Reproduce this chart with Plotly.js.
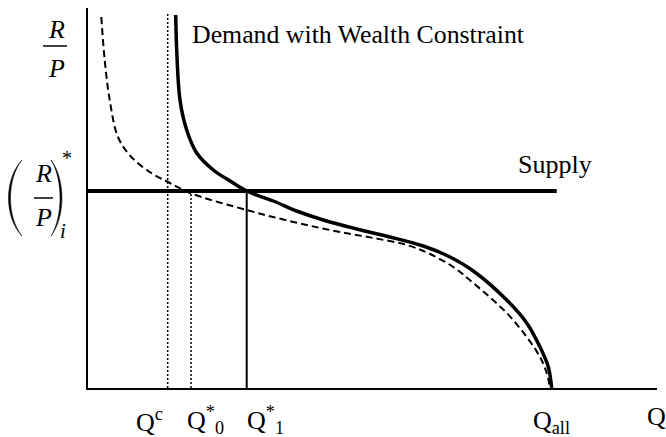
<!DOCTYPE html>
<html>
<head>
<meta charset="utf-8">
<script src="https://cdn.plot.ly/plotly-3.0.1.min.js"></script>
<style>html,body{margin:0;padding:0;background:#fff;}#chart{width:666px;height:437px;}</style>
</head>
<body>
<div id="chart"></div>
<script>
// Demand with wealth constraint (solid)
const wealthQ = [87.7, 88.7, 92, 98.7, 108.7, 125.3, 142, 158.7, 185.3, 208.7, 235.3, 268.7, 302, 335.3, 360, 385.3, 418.7, 438.7, 452, 460.3, 463.7];
const wealthP = [373, 338, 288, 258, 235, 218, 207, 197, 187, 177, 168, 159, 151, 142, 132, 117, 88, 65, 41, 21, 0];
// Demand without wealth constraint (dashed)
const demandQ = [13.3, 16.7, 21.7, 30, 43.3, 63.3, 80, 102, 158.7, 185, 218.7, 252, 285.3, 318.7, 342, 365.3, 385.3, 418.7, 438.7, 452, 458.7, 462];
const demandP = [371, 328, 288, 251, 231, 215, 206, 195, 178, 171, 163, 156, 150, 143, 134, 121, 105, 75, 51, 31, 15, 0];
// Supply (horizontal)
const supplyQ = [0, 468.7];
const pStar = 197;
// Key quantities
const qC = 79.7, q0 = 103, q1 = 158.7, qCTop = 374;
const xLabels = ['Q<sup>c</sup>', 'Q<sup>*</sup><sub>0</sub>', 'Q<sup>*</sup><sub>1</sub>', 'Q<sub>all</sub>', 'Q'];

const L = 88, T = 8, W = 569, H = 380;
const px = x => (x - L) / W;
const py = y => (T + H - y) / H;
const serif = 'Liberation Serif, Times New Roman, serif';

const traces = [
  {x: demandQ, y: demandP, mode: 'lines', line: {color: '#000', width: 2, dash: '7px,4px', shape: 'spline', smoothing: 1}, hoverinfo: 'skip'},
  {x: wealthQ, y: wealthP, mode: 'lines', line: {color: '#000', width: 3.5, shape: 'spline', smoothing: 1}, hoverinfo: 'skip'},
  {x: supplyQ, y: [pStar, pStar], mode: 'lines', line: {color: '#000', width: 4}, hoverinfo: 'skip'},
  {x: [q1, q1], y: [0, pStar], mode: 'lines', line: {color: '#000', width: 2}, hoverinfo: 'skip'},
  {x: [qC, qC], y: [0, qCTop], mode: 'lines', line: {color: '#000', width: 1.5, dash: '2px,2px'}, hoverinfo: 'skip'},
  {x: [q0, q0], y: [0, pStar], mode: 'lines', line: {color: '#000', width: 1.5, dash: '2px,2px'}, hoverinfo: 'skip'}
];

function ann(text, x, y, opts) {
  return Object.assign({text: text, x: px(x), y: py(y), xref: 'paper', yref: 'paper', showarrow: false,
    xanchor: 'left', yanchor: 'middle', font: {family: serif, size: 26, color: '#000'}}, opts || {});
}

const annotations = [
  ann('Demand with Wealth Constraint', 190, 34, {font: {family: serif, size: 25.8, color: '#000'}}),
  ann('Supply', 516, 165),
  ann(xLabels[0], 134, 420),
  ann(xLabels[1], 185, 420),
  ann(xLabels[2], 245, 420),
  ann(xLabels[3], 531, 422),
  ann(xLabels[4], 645, 416),
  ann('<i>R</i>', 56, 30, {xanchor: 'center'}),
  ann('<i>P</i>', 56, 68, {xanchor: 'center'}),
  ann('<i>R</i>', 43, 173, {xanchor: 'center'}),
  ann('<i>P</i>', 43, 218, {xanchor: 'center'}),
  ann('*', 67, 158, {xanchor: 'center', font: {family: serif, size: 20, color: '#000'}}),
  ann('<i>i</i>', 63, 231, {xanchor: 'center', font: {family: serif, size: 21, color: '#000'}})
];

function paren(xEnd, xOut, xIn, yTop, yBot) {
  const c = (xb) => (xb - 0.25 * xEnd) / 0.75;
  const co = c(xOut), ci = c(xIn);
  return 'M ' + px(xEnd) + ',' + py(yTop) +
    ' C ' + px(co) + ',' + py(yTop + (yBot - yTop) * 0.25) + ' ' + px(co) + ',' + py(yTop + (yBot - yTop) * 0.75) + ' ' + px(xEnd) + ',' + py(yBot) +
    ' C ' + px(ci) + ',' + py(yTop + (yBot - yTop) * 0.75) + ' ' + px(ci) + ',' + py(yTop + (yBot - yTop) * 0.25) + ' ' + px(xEnd) + ',' + py(yTop) + ' Z';
}

const shapes = [
  {type: 'line', xref: 'paper', yref: 'paper', x0: px(43), x1: px(67), y0: py(46), y1: py(46), line: {color: '#000', width: 1.5}},
  {type: 'line', xref: 'paper', yref: 'paper', x0: px(34), x1: px(53), y0: py(198), y1: py(198), line: {color: '#000', width: 1.5}},
  {type: 'path', xref: 'paper', yref: 'paper', path: paren(22, 8.5, 10.5, 160, 236), fillcolor: '#000', line: {color: '#000', width: 0.5}},
  {type: 'path', xref: 'paper', yref: 'paper', path: paren(51, 62, 60, 160, 236), fillcolor: '#000', line: {color: '#000', width: 0.5}}
];

const layout = {
  width: 666, height: 437,
  margin: {l: L, r: 666 - L - W, t: T, b: 437 - T - H, pad: 0},
  paper_bgcolor: '#fff', plot_bgcolor: '#fff',
  showlegend: false,
  xaxis: {range: [0, W], showline: true, linewidth: 2, linecolor: '#000', showticklabels: false, ticks: '', showgrid: false, zeroline: false, fixedrange: true},
  yaxis: {range: [0, H], showline: true, linewidth: 2, linecolor: '#000', showticklabels: false, ticks: '', showgrid: false, zeroline: false, fixedrange: true},
  annotations: annotations,
  shapes: shapes
};

Plotly.newPlot('chart', traces, layout, {staticPlot: true, displayModeBar: false});
</script>
</body>
</html>
